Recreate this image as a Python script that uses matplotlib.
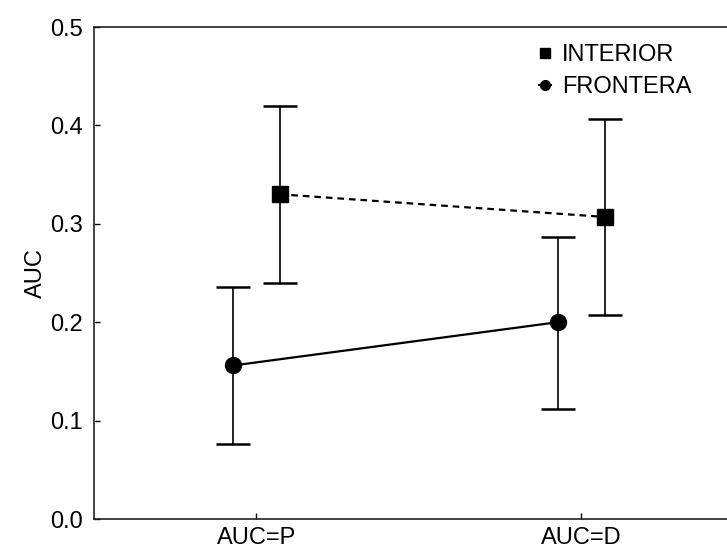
import matplotlib
matplotlib.use("Agg")
import matplotlib.pyplot as plt
from matplotlib.lines import Line2D
import numpy as np

plt.rcParams['font.family'] = ['Liberation Sans', 'DejaVu Sans']

categories = ["AUC=P", "AUC=D"]
interior_mean = [0.330, 0.307]
interior_low = [0.240, 0.207]
interior_high = [0.420, 0.406]
frontera_mean = [0.156, 0.200]
frontera_low = [0.076, 0.112]
frontera_high = [0.236, 0.287]
yticks = [0.0, 0.1, 0.2, 0.3, 0.4, 0.5]

fig = plt.figure(figsize=(7.27, 5.54), dpi=100)
ax = fig.add_axes([94 / 727, 35 / 554, 649.5 / 727, 492 / 554])

xpos = np.arange(1, len(categories) + 1)
off = 0.072

im = np.array(interior_mean)
fm = np.array(frontera_mean)
ierr = [im - np.array(interior_low), np.array(interior_high) - im]
ferr = [fm - np.array(frontera_low), np.array(frontera_high) - fm]

ax.errorbar(xpos + off, im, yerr=ierr, fmt='none', ecolor='black', elinewidth=1.2,
            capsize=12, capthick=1.8, zorder=2)
ax.errorbar(xpos - off, fm, yerr=ferr, fmt='none', ecolor='black', elinewidth=1.2,
            capsize=12, capthick=1.8, zorder=2)
ax.plot(xpos + off, im, color='black', ls=(0, (3, 2.2)), lw=1.6, marker='s',
        markersize=11.5, zorder=3)
ax.plot(xpos - off, fm, color='black', ls='-', lw=1.6, marker='o',
        markersize=11.5, zorder=3)

fs = 17
ax.set_xlim(0.5, 2.5)
ax.set_ylim(0, 0.5)
ax.set_xticks(xpos)
ax.set_xticklabels(categories)
ax.set_yticks(yticks)
ax.set_yticklabels([f"{v:.1f}" for v in yticks])
ax.tick_params(axis='both', direction='in', length=4, width=1, labelsize=fs,
               colors='black')
ax.tick_params(axis='x', pad=6)
ax.tick_params(axis='y', pad=8)
ax.set_ylabel("AUC", fontsize=fs, labelpad=2)
for s in ax.spines.values():
    s.set_linewidth(1.2)
    s.set_color('#222222')

handles = [
    Line2D([], [], color='black', marker='s', ls='none', markersize=7),
    Line2D([], [], color='black', marker='o', ls='-', lw=1.5, markersize=7),
]
leg = ax.legend(handles, ["INTERIOR", "FRONTERA"], loc='upper left',
                bbox_to_anchor=((530 - 94) / 649.5, 0.985), frameon=False,
                fontsize=fs, handlelength=0.5, handletextpad=0.45,
                labelspacing=0.45, borderaxespad=0)

fig.savefig("out.png", dpi=100)
